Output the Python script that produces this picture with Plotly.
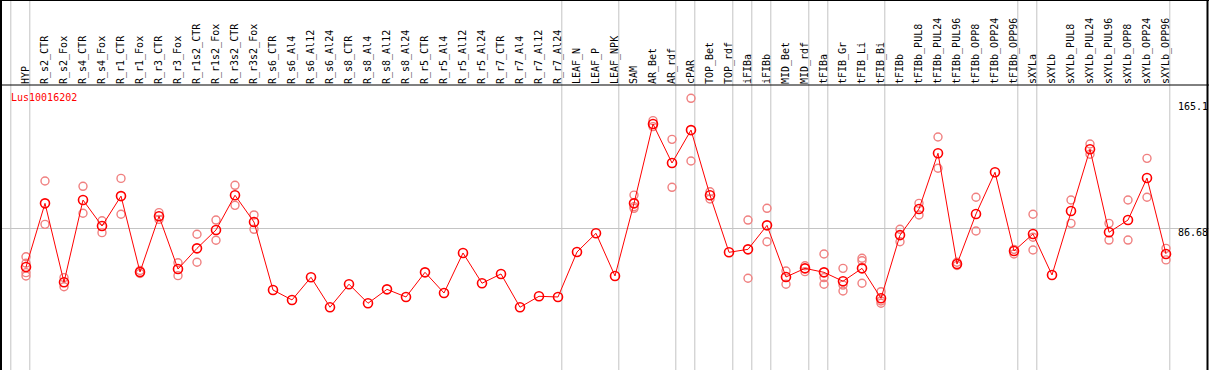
import plotly.graph_objects as go

title = "Lus10016202"
categories = ["HYP", "R_s2_CTR", "R_s2_Fox", "R_s4_CTR", "R_s4_Fox", "R_r1_CTR", "R_r1_Fox",
              "R_r3_CTR", "R_r3_Fox", "R_r1s2_CTR", "R_r1s2_Fox", "R_r3s2_CTR", "R_r3s2_Fox",
              "R_s6_CTR", "R_s6_Al4", "R_s6_Al12", "R_s6_Al24", "R_s8_CTR", "R_s8_Al4",
              "R_s8_Al12", "R_s8_Al24", "R_r5_CTR", "R_r5_Al4", "R_r5_Al12", "R_r5_Al24",
              "R_r7_CTR", "R_r7_Al4", "R_r7_Al12", "R_r7_Al24", "LEAF_N", "LEAF_P", "LEAF_NPK",
              "SAM", "AR_Bet", "AR_rdf", "cPAR", "TOP_Bet", "TOP_rdf", "iFIBa", "iFIBb",
              "MID_Bet", "MID_rdf", "tFIBa", "tFIB_Gr", "tFIB_Li", "tFIB_Bi", "tFIBb",
              "tFIBb_PUL8", "tFIBb_PUL24", "tFIBb_PUL96", "tFIBb_OPP8", "tFIBb_OPP24",
              "tFIBb_OPP96", "sXYLa", "sXYLb", "sXYLb_PUL8", "sXYLb_PUL24", "sXYLb_PUL96",
              "sXYLb_OPP8", "sXYLb_OPP24", "sXYLb_OPP96"]

means = [63.1, 101.6, 53.9, 103.6, 87.9, 106.0, 60.1, 93.8, 61.9, 74.4, 85.5, 106.5, 90.3,
         49.2, 43.2, 56.9, 38.8, 52.7, 41.2, 49.6, 45.0, 59.9, 47.4, 71.6, 53.3, 58.9, 38.8,
         45.4, 45.0, 72.2, 83.5, 57.7, 101.6, 149.6, 126.0, 145.9, 106.5, 72.0, 73.8, 88.3,
         57.1, 62.3, 59.9, 54.5, 62.3, 44.2, 82.4, 98.2, 131.9, 64.9, 95.2, 120.4, 72.8,
         83.1, 58.3, 97.0, 134.3, 84.1, 91.5, 116.9, 71.0]

replicates = [[69.3, 65.4, 59.7, 57.7], [115.1, 88.9], [56.7, 51.2], [111.9, 95.6],
              [91.1, 83.9], [116.7, 95.0], [61.0, 59.2], [96.0, 91.9], [65.7, 57.9],
              [82.9, 66.0], [91.5, 79.3], [112.5, 100.4], [94.6, 85.9],
              [], [], [], [], [], [], [], [], [], [], [], [], [], [], [], [], [], [], [],
              [106.6, 99.6, 98.6], [151.6, 148.0], [140.3, 111.3], [165.1, 127.2],
              [108.6, 104.2], [], [91.5, 56.3], [98.6, 78.4], [60.7, 52.7], [63.9, 60.3],
              [71.0, 56.7, 52.7], [62.3, 52.2, 48.6], [68.4, 66.9, 53.3], [48.2, 42.6, 41.2],
              [85.9, 78.4], [101.6, 94.6], [141.7, 122.8], [66.0, 64.0], [105.3, 84.9], [],
              [73.8, 71.0], [95.0, 81.1, 73.4], [], [103.6, 89.5], [137.5, 131.3],
              [89.5, 79.4], [103.6, 79.4], [128.8, 105.3], [74.4, 67.4]]

group_ends = [-1, 0, 28, 31, 34, 35, 37, 38, 39, 41, 42, 45, 52, 53, 60]
axis_labels = [165.1, 86.68, 0]

W, H = 1209, 370
TOP = 85
FONT = "DejaVu Sans Mono"

idx = list(range(len(categories)))
rx, ry = [], []
for i, reps in enumerate(replicates):
    for v in reps:
        rx.append(i)
        ry.append(v)

fig = go.Figure()
fig.add_trace(go.Scatter(x=rx, y=ry, mode="markers", hoverinfo="skip",
                         marker=dict(symbol="circle-open", size=8, color="#f08080",
                                     line=dict(width=1.4, color="#f08080"))))
fig.add_trace(go.Scatter(x=idx, y=means, mode="lines+markers",
                         line=dict(color="#ff0000", width=1),
                         marker=dict(symbol="circle-open", size=9, color="#ff0000",
                                     line=dict(width=1.6, color="#ff0000"))))

# x range so that index i sits at pixel 26 + 19*i
x0 = -26 / 19
x1 = (W - 26) / 19
# y range: value v sits at pixel 371.4 - 1.654*v
y_lo = (371.4 - H) / 1.654
y_hi = (371.4 - TOP) / 1.654

ptop = 1 + TOP / (H - TOP)  # paper y of image top

shapes = []
for b in group_ends:
    shapes.append(dict(type="line", xref="x", yref="paper", x0=b + 0.2, x1=b + 0.2,
                       y0=-0.05, y1=ptop + 0.05, layer="below",
                       line=dict(color="#c4c4c4", width=1)))
# borders
blk = dict(color="#000000", width=1)
shapes += [
    dict(type="line", xref="paper", yref="paper", x0=0, x1=1, y0=1, y1=1, line=blk),
    dict(type="line", xref="paper", yref="paper", x0=0, x1=1, y0=ptop - 0.5 / (H - TOP),
         y1=ptop - 0.5 / (H - TOP), line=blk),
    dict(type="line", xref="paper", yref="paper", x0=1 / W, x1=1 / W, y0=-0.05, y1=ptop,
         line=dict(color="#000000", width=2)),
    dict(type="line", xref="paper", yref="paper", x0=1 - 1.5 / W, x1=1 - 1.5 / W, y0=-0.05,
         y1=ptop, line=dict(color="#000000", width=2)),
]

annotations = [dict(text=title, xref="paper", yref="paper", x=9 / W, xanchor="left",
                    y=1 - 12 / (H - TOP), yanchor="middle", showarrow=False,
                    font=dict(family=FONT, size=10, color="#ff0000"))]
shifts = {165.1: -8, 86.68: -4, 0: 9}
for v in axis_labels:
    annotations.append(dict(text=str(v), xref="x", yref="y", x=(1176 - 26) / 19, xanchor="left",
                            y=v, yanchor="middle", yshift=shifts[v], showarrow=False,
                            font=dict(family=FONT, size=10, color="#000000")))

fig.update_layout(
    width=W, height=H, margin=dict(l=0, r=0, t=TOP, b=0),
    paper_bgcolor="white", plot_bgcolor="white", showlegend=False,
    shapes=shapes, annotations=annotations,
    xaxis=dict(range=[x0, x1], side="top", tickmode="array", tickvals=idx,
               ticktext=categories, tickangle=-90, ticks="", showgrid=False,
               zeroline=False, showline=False,
               tickfont=dict(family=FONT, size=10, color="#000000")),
    yaxis=dict(range=[y_lo, y_hi], tickmode="array", tickvals=[86.68], showticklabels=False,
               showgrid=True, gridcolor="#c4c4c4", gridwidth=1, zeroline=False,
               showline=False, ticks=""),
)

fig.write_html("out.html", config={"displayModeBar": False},
               post_script="document.body.style.margin='0';document.body.style.overflow='hidden';")
